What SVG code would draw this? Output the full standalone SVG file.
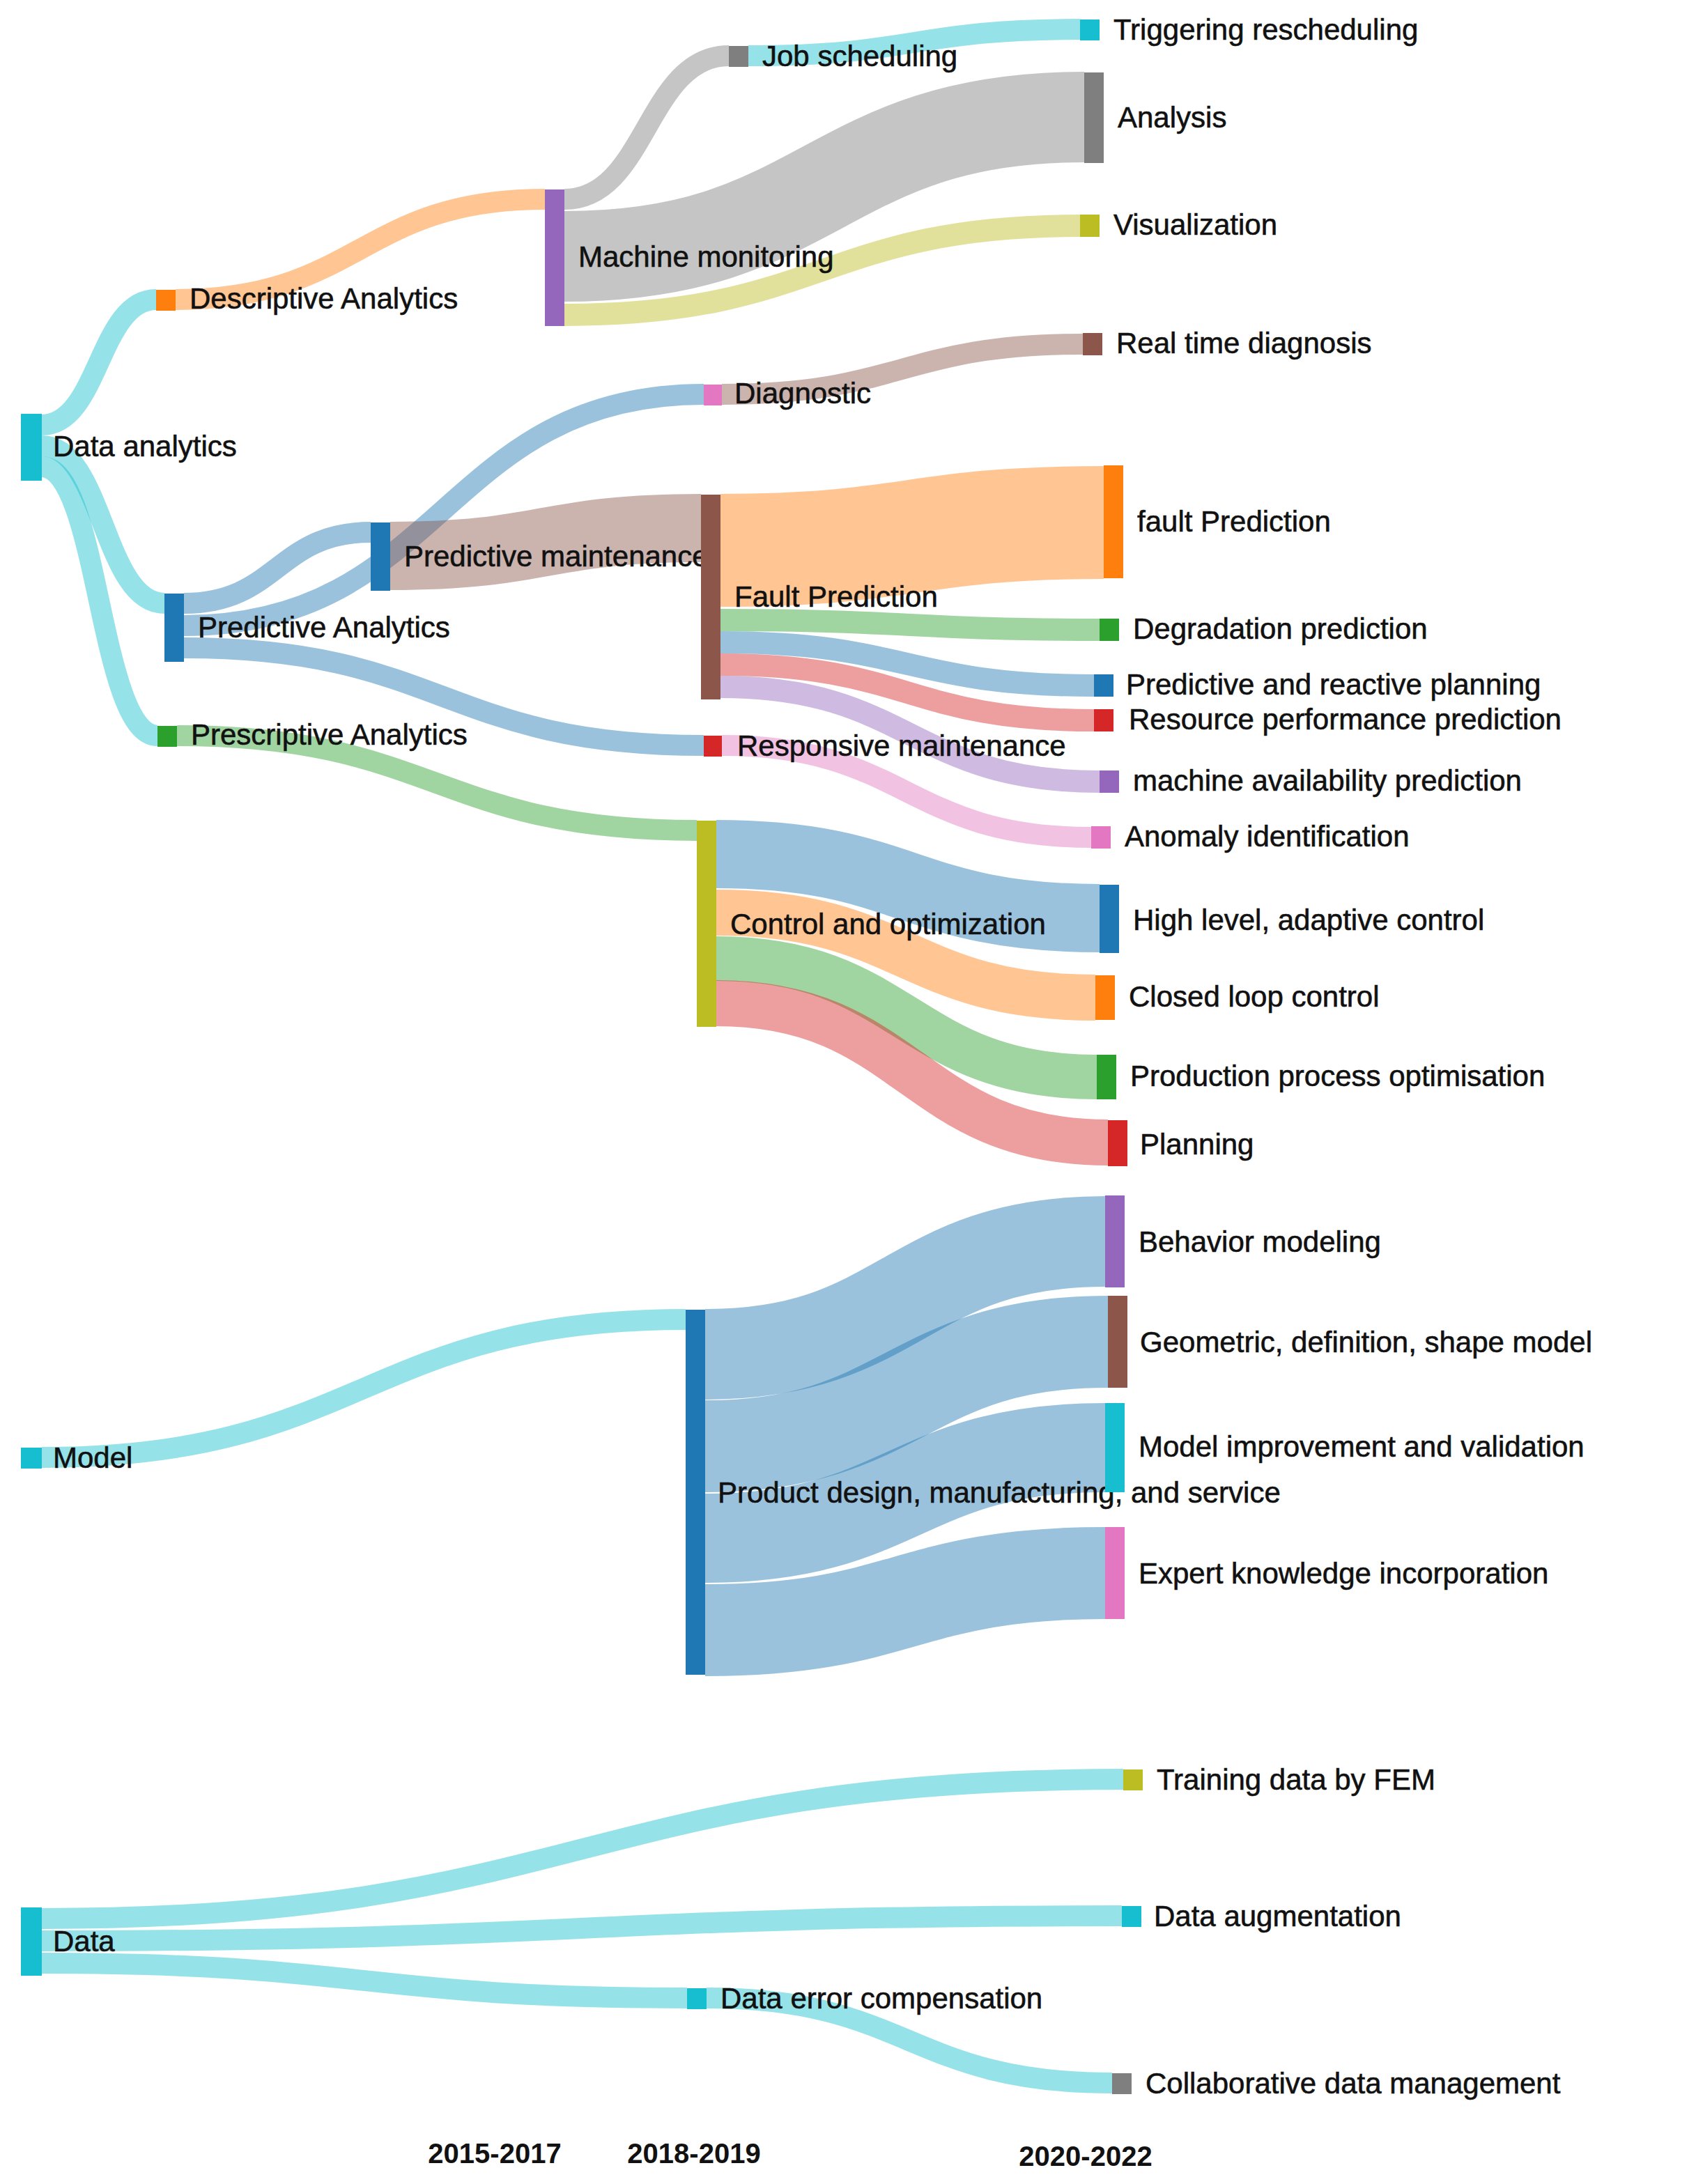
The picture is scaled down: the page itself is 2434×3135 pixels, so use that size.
<svg xmlns="http://www.w3.org/2000/svg" width="2434" height="3135" viewBox="0 0 2434 3135">
<style>
text{font-family:"Liberation Sans",Arial,sans-serif;font-size:21px;fill:#111;dominant-baseline:middle;stroke:#111;stroke-width:0.3}
.yr{font-weight:bold;font-size:20px;text-anchor:middle;stroke:none}
#links path{fill:none;stroke-opacity:0.45}
.c{stroke:#17becf}.o{stroke:#ff7f0e}.g{stroke:#7f7f7f}.l{stroke:#bcbd22}.b{stroke:#1f77b4}.br{stroke:#8c564b}.gr{stroke:#2ca02c}.r{stroke:#d62728}.p{stroke:#9467bd}.pk{stroke:#e377c2}
</style>
<rect width="2434" height="3135" fill="#fff"/>
<g transform="scale(2)">
<g id="links">
<path class="c" stroke-width="15" d="M30,305 C71,305 71,215 112,215"/>
<path class="c" stroke-width="15" d="M30,320 C74,320 74,433 118,433"/>
<path class="c" stroke-width="15" d="M30,335 C71,335 71,528 113,528"/>
<path class="o" stroke-width="15" d="M126,215 C258,215 258,143 391,143"/>
<path class="g" stroke-width="15" d="M405,143 C464,143 464,40 523,40"/>
<path class="g" stroke-width="65" d="M405,184 C591,184 591,84 778,84"/>
<path class="l" stroke-width="16" d="M405,226 C590,226 590,162 775,162"/>
<path class="c" stroke-width="15" d="M537,40 C656,40 656,21 775,21"/>
<path class="b" stroke-width="15" d="M132,433 C199,433 199,382 266,382"/>
<path class="b" stroke-width="15" d="M132,449 C318,449 318,283 505,283"/>
<path class="b" stroke-width="15" d="M132,465 C318,465 318,535 505,535"/>
<path class="br" stroke-width="15" d="M518,283 C647,283 647,247 777,247"/>
<path class="br" stroke-width="49" d="M280,399 C391,399 391,379 503,379"/>
<path class="o" stroke-width="81" d="M517,395 C654,395 654,375 792,375"/>
<path class="gr" stroke-width="16" d="M517,445 C653,445 653,452 789,452"/>
<path class="b" stroke-width="16" d="M517,461 C651,461 651,492 785,492"/>
<path class="r" stroke-width="16" d="M517,477 C651,477 651,517 785,517"/>
<path class="p" stroke-width="16" d="M517,493 C653,493 653,561 789,561"/>
<path class="pk" stroke-width="15" d="M518,535 C650,535 650,601 783,601"/>
<path class="gr" stroke-width="15" d="M127,528 C313,528 313,596 500,596"/>
<path class="b" stroke-width="49" d="M514,613 C651,613 651,659 789,659"/>
<path class="o" stroke-width="33" d="M514,655 C650,655 650,716 786,716"/>
<path class="gr" stroke-width="32" d="M514,688 C650,688 650,773 787,773"/>
<path class="r" stroke-width="33" d="M514,720 C654,720 654,820 795,820"/>
<path class="c" stroke-width="15" d="M30,1046 C261,1046 261,947 492,947"/>
<path class="b" stroke-width="65" d="M506,972 C649,972 649,891 793,891"/>
<path class="b" stroke-width="66" d="M506,1038 C650,1038 650,963 795,963"/>
<path class="b" stroke-width="64" d="M506,1104 C649,1104 649,1039 793,1039"/>
<path class="b" stroke-width="66" d="M506,1170 C649,1170 649,1129 793,1129"/>
<path class="c" stroke-width="15" d="M30,1377 C418,1377 418,1277 806,1277"/>
<path class="c" stroke-width="15" d="M30,1393 C417,1393 417,1375 805,1375"/>
<path class="c" stroke-width="15" d="M30,1409 C261,1409 261,1434 493,1434"/>
<path class="c" stroke-width="15" d="M507,1434 C652,1434 652,1495 798,1495"/>
</g>
<g id="n-da"><rect x="15" y="297" width="15" height="48" fill="#17becf"/><text x="38" y="322">Data analytics</text></g>
<g id="n-desc"><rect x="112" y="208" width="14" height="15" fill="#ff7f0e"/><text x="136" y="216">Descriptive Analytics</text></g>
<g id="n-pa"><rect x="118" y="426" width="14" height="49" fill="#1f77b4"/><text x="142" y="452">Predictive Analytics</text></g>
<g id="n-presc"><rect x="113" y="521" width="14" height="15" fill="#2ca02c"/><text x="137" y="529">Prescriptive Analytics</text></g>
<g id="n-mm"><rect x="391" y="136" width="14" height="98" fill="#9467bd"/><text x="415" y="186">Machine monitoring</text></g>
<g id="n-pm"><rect x="266" y="375" width="14" height="49" fill="#1f77b4"/><text x="290" y="401">Predictive maintenance</text></g>
<g id="n-diag"><rect x="505" y="276" width="13" height="15" fill="#e377c2"/><text x="527" y="284">Diagnostic</text></g>
<g id="n-resp"><rect x="505" y="528" width="13" height="15" fill="#d62728"/><text x="529" y="537">Responsive maintenance</text></g>
<g id="n-fp"><rect x="503" y="355" width="14" height="147" fill="#8c564b"/><text x="527" y="430">Fault Prediction</text></g>
<g id="n-co"><rect x="500" y="589" width="14" height="148" fill="#bcbd22"/><text x="524" y="665">Control and optimization</text></g>
<g id="n-js"><rect x="523" y="33" width="14" height="15" fill="#7f7f7f"/><text x="547" y="42">Job scheduling</text></g>
<g id="n-tr"><rect x="775" y="14" width="14" height="15" fill="#17becf"/><text x="799" y="23">Triggering rescheduling</text></g>
<g id="n-an"><rect x="778" y="52" width="14" height="65" fill="#7f7f7f"/><text x="802" y="86">Analysis</text></g>
<g id="n-vis"><rect x="775" y="154" width="14" height="16" fill="#bcbd22"/><text x="799" y="163">Visualization</text></g>
<g id="n-rtd"><rect x="777" y="239" width="14" height="16" fill="#8c564b"/><text x="801" y="248">Real time diagnosis</text></g>
<g id="n-fp2"><rect x="792" y="334" width="14" height="81" fill="#ff7f0e"/><text x="816" y="376">fault Prediction</text></g>
<g id="n-deg"><rect x="789" y="444" width="14" height="16" fill="#2ca02c"/><text x="813" y="453">Degradation prediction</text></g>
<g id="n-prp"><rect x="785" y="484" width="14" height="16" fill="#1f77b4"/><text x="808" y="493">Predictive and reactive planning</text></g>
<g id="n-rpp"><rect x="785" y="509" width="14" height="16" fill="#d62728"/><text x="810" y="518">Resource performance prediction</text></g>
<g id="n-map"><rect x="789" y="553" width="14" height="16" fill="#9467bd"/><text x="813" y="562">machine availability prediction</text></g>
<g id="n-ai"><rect x="783" y="593" width="14" height="16" fill="#e377c2"/><text x="807" y="602">Anomaly identification</text></g>
<g id="n-hl"><rect x="789" y="635" width="14" height="49" fill="#1f77b4"/><text x="813" y="662">High level, adaptive control</text></g>
<g id="n-cl"><rect x="786" y="700" width="14" height="32" fill="#ff7f0e"/><text x="810" y="717">Closed loop control</text></g>
<g id="n-ppo"><rect x="787" y="757" width="14" height="32" fill="#2ca02c"/><text x="811" y="774">Production process optimisation</text></g>
<g id="n-pl"><rect x="795" y="804" width="14" height="33" fill="#d62728"/><text x="818" y="823">Planning</text></g>
<g id="n-model"><rect x="15" y="1039" width="15" height="15" fill="#17becf"/><text x="38" y="1048">Model</text></g>
<g id="n-pd"><rect x="492" y="940" width="14" height="262" fill="#1f77b4"/><text x="515" y="1073">Product design, manufacturing, and service</text></g>
<g id="n-bm"><rect x="793" y="858" width="14" height="66" fill="#9467bd"/><text x="817" y="893">Behavior modeling</text></g>
<g id="n-geo"><rect x="795" y="930" width="14" height="66" fill="#8c564b"/><text x="818" y="965">Geometric, definition, shape model</text></g>
<g id="n-miv"><rect x="793" y="1007" width="14" height="64" fill="#17becf"/><text x="817" y="1040">Model improvement and validation</text></g>
<g id="n-eki"><rect x="793" y="1096" width="14" height="66" fill="#e377c2"/><text x="817" y="1131">Expert knowledge incorporation</text></g>
<g id="n-data"><rect x="15" y="1369" width="15" height="49" fill="#17becf"/><text x="38" y="1395">Data</text></g>
<g id="n-dec"><rect x="493" y="1427" width="14" height="15" fill="#17becf"/><text x="517" y="1436">Data error compensation</text></g>
<g id="n-fem"><rect x="806" y="1270" width="14" height="15" fill="#bcbd22"/><text x="830" y="1279">Training data by FEM</text></g>
<g id="n-aug"><rect x="805" y="1368" width="14" height="15" fill="#17becf"/><text x="828" y="1377">Data augmentation</text></g>
<g id="n-cdm"><rect x="798" y="1488" width="14" height="15" fill="#7f7f7f"/><text x="822" y="1497">Collaborative data management</text></g>
<text class="yr" x="355" y="1547">2015-2017</text>
<text class="yr" x="498" y="1547">2018-2019</text>
<text class="yr" x="779" y="1549">2020-2022</text>
</g>
</svg>
